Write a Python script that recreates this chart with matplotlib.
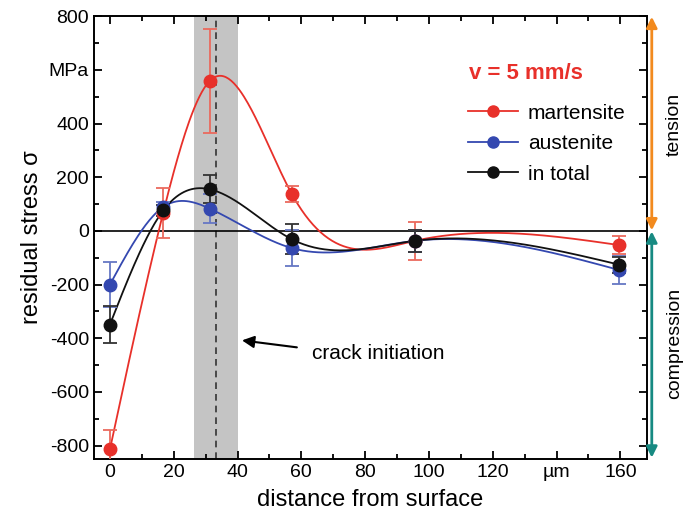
import numpy as np
import matplotlib.pyplot as plt
from matplotlib.lines import Line2D

plt.rcParams['font.family'] = ['Liberation Sans', 'DejaVu Sans']

# positions des mesures (µm)
depth = [0, 16.7, 31.3, 57, 95.6, 159.7]

# contraintes résiduelles (MPa) et barres d'erreur
martensite = [-814, 68, 559, 138, -37, -53]
martensite_err = [72, 93, 193, 29, 71, 34]
austenite = [-200, 89, 83, -64, -37, -146]
austenite_err = [85, 20, 53, 66, 40, 52]
total = [-349, 76, 155, -31, -37, -126]
total_err = [68, 20, 52, 56, 42, 30]

labels = ["martensite", "austenite", "in total"]

# zone d'amorçage de la fissure
crack_zone = (26.3, 40.2)
crack_pos = 33.2

red = "#e8302a"
blue = "#3448b0"
black = "#111111"
orange = "#f28a1e"
teal = "#178a82"


def natural_spline(x, y, xs):
    # spline cubique naturelle (pas de scipy)
    x = np.asarray(x, float)
    y = np.asarray(y, float)
    n = len(x)
    h = np.diff(x)
    A = np.zeros((n, n))
    b = np.zeros(n)
    A[0, 0] = A[-1, -1] = 1
    for i in range(1, n - 1):
        A[i, i - 1] = h[i - 1]
        A[i, i] = 2 * (h[i - 1] + h[i])
        A[i, i + 1] = h[i]
        b[i] = 6 * ((y[i + 1] - y[i]) / h[i] - (y[i] - y[i - 1]) / h[i - 1])
    M = np.linalg.solve(A, b)
    idx = np.clip(np.searchsorted(x, xs) - 1, 0, n - 2)
    x0, x1 = x[idx], x[idx + 1]
    hh = x1 - x0
    t0 = x1 - xs
    t1 = xs - x0
    return (M[idx] * t0 ** 3 / (6 * hh) + M[idx + 1] * t1 ** 3 / (6 * hh)
            + (y[idx] / hh - M[idx] * hh / 6) * t0
            + (y[idx + 1] / hh - M[idx + 1] * hh / 6) * t1)


fig = plt.figure(figsize=(6.83, 5.23), dpi=100)
ax = fig.add_axes([0.1376, 0.1224, 0.8094, 0.8466])

ax.axvspan(crack_zone[0], crack_zone[1], color="#c4c4c4", zorder=0, lw=0)
ax.axvline(crack_pos, color="#333333", ls=(0, (4, 3)), lw=1.2, zorder=1)
ax.axhline(0, color="black", lw=1.2, zorder=1)

xs = np.linspace(depth[0], depth[-1], 400)
series = [(martensite, martensite_err, red, "#ea6a5e"),
          (austenite, austenite_err, blue, "#6677c4"),
          (total, total_err, black, "#333333")]
handles = []
for (vals, errs, col, ecol), lab in zip(series, labels):
    ax.plot(xs, natural_spline(depth, vals, xs), color=col, lw=1.3, zorder=2)
    ax.errorbar(depth, vals, yerr=errs, fmt="o", color=col, ecolor=ecol,
                ms=9, elinewidth=1.3, capsize=5, capthick=1.3, zorder=3)
    handles.append(Line2D([], [], color=col, lw=1.3, marker="o", ms=8))

leg = ax.legend(handles, labels, loc="upper left", bbox_to_anchor=(0.642, 0.845),
                frameon=False, fontsize=15, handlelength=2.4, handletextpad=0.5,
                labelspacing=0.55)
ax.text(0.678, 0.871, "v = 5 mm/s", transform=ax.transAxes, color=red,
        fontsize=16, fontweight="bold", va="center")

ax.annotate("", xy=(41.4, -408), xytext=(58.6, -434),
            arrowprops=dict(arrowstyle="-|>", color="black", lw=1.5,
                            mutation_scale=18, shrinkA=0, shrinkB=0))
ax.text(63.3, -457, "crack initiation", fontsize=15, va="center")

# flèches tension / compression à droite
trans = ax.get_yaxis_transform()
ax.annotate("", xy=(1.009, 798), xytext=(1.009, 2), xycoords=trans,
            arrowprops=dict(arrowstyle="<|-|>", color=orange, lw=2,
                            mutation_scale=16, shrinkA=0, shrinkB=0),
            annotation_clip=False)
ax.annotate("", xy=(1.009, -2), xytext=(1.009, -845), xycoords=trans,
            arrowprops=dict(arrowstyle="<|-|>", color=teal, lw=2,
                            mutation_scale=16, shrinkA=0, shrinkB=0),
            annotation_clip=False)
ax.text(1.05, 397, "tension", transform=trans, rotation=90, fontsize=14,
        ha="center", va="center")
ax.text(1.05, -420, "compression", transform=trans, rotation=90, fontsize=14,
        ha="center", va="center")

ax.set_xlim(-5, 168.3)
ax.set_ylim(-850, 800)
xt = np.arange(0, 161, 20)
ax.set_xticks(xt)
ax.set_xticklabels([("µm" if v == 140 else str(v)) for v in xt])
ax.set_xticks(np.arange(0, 168, 10), minor=True)
yt = np.arange(-800, 801, 200)
ax.set_yticks(yt)
ax.set_yticklabels([("MPa" if v == 600 else str(v)) for v in yt])
ax.set_yticks(np.arange(-800, 801, 100), minor=True)
ax.tick_params(which="both", direction="in", top=True, right=True,
               labelsize=14, width=1.3)
ax.tick_params(which="major", length=6)
ax.tick_params(which="minor", length=3.5)
for s in ax.spines.values():
    s.set_linewidth(1.4)

ax.set_xlabel("distance from surface", fontsize=17, labelpad=6)
ax.set_ylabel("residual stress σ", fontsize=17, labelpad=4)

fig.savefig("out.png", dpi=100)
